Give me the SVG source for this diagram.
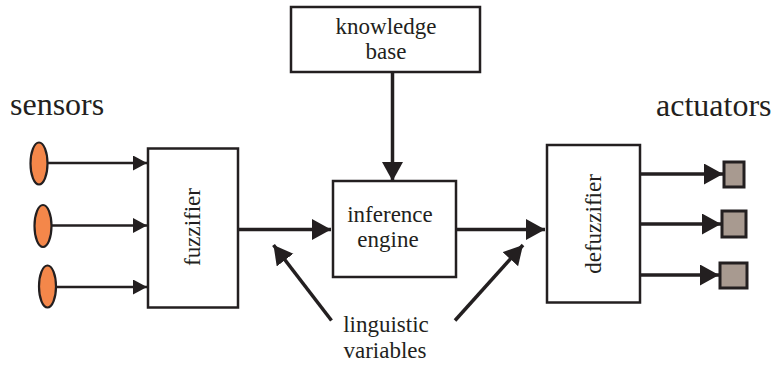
<svg xmlns="http://www.w3.org/2000/svg" width="774" height="367" viewBox="0 0 774 367">
<defs>
<style>
.box{fill:#fff;stroke:#231f20;stroke-width:2.5}
.t{font-family:"Liberation Serif","Times New Roman",serif;fill:#231f20;font-size:23px}
.big{font-size:32px}
.ln{stroke:#231f20;stroke-width:3.5;fill:none}
.lns{stroke:#231f20;stroke-width:2.5;fill:none}
.sensor{fill:#f4874a;stroke:#231f20;stroke-width:2.2}
.act{fill:#a89a90;stroke:#231f20;stroke-width:3}
</style>
<marker id="ah" markerUnits="userSpaceOnUse" markerWidth="20" markerHeight="22" refX="19" refY="10.5" orient="auto" viewBox="0 0 20 22">
<path d="M0,0 L19,10.5 L0,21 Z" fill="#231f20"/>
</marker>
<marker id="ahs" markerUnits="userSpaceOnUse" markerWidth="14" markerHeight="16" refX="14" refY="7.5" orient="auto" viewBox="0 0 14 16">
<path d="M0,0 L14,7.5 L0,15 Z" fill="#231f20"/>
</marker>
</defs>
<rect width="774" height="367" fill="#fff"/>

<text class="t big" x="10" y="115">sensors</text>
<text class="t big" x="656" y="116">actuators</text>

<g id="sensor1"><ellipse class="sensor" cx="39" cy="163.5" rx="8.5" ry="21"/></g>
<g id="sensor2"><ellipse class="sensor" cx="43" cy="226" rx="8.5" ry="21"/></g>
<g id="sensor3"><ellipse class="sensor" cx="47.5" cy="286.5" rx="8.5" ry="21"/></g>

<g id="fuzzifier">
<rect class="box" x="148" y="148.5" width="90" height="159"/>
<text class="t" transform="translate(200,227) rotate(-90)" text-anchor="middle">fuzzifier</text>
</g>

<g id="knowledge-base">
<rect class="box" x="291" y="7" width="189" height="65"/>
<text class="t" x="386" y="34" text-anchor="middle">knowledge</text>
<text class="t" x="386" y="59" text-anchor="middle">base</text>
</g>

<g id="inference-engine">
<rect class="box" x="333" y="181" width="123" height="96"/>
<text class="t" x="390" y="221.5" text-anchor="middle">inference</text>
<text class="t" x="388" y="246.5" text-anchor="middle">engine</text>
</g>

<g id="defuzzifier">
<rect class="box" x="547" y="145" width="93" height="157.5"/>
<text class="t" transform="translate(601,224) rotate(-90)" text-anchor="middle">defuzzifier</text>
</g>

<g id="actuator1"><rect class="act" x="724" y="162" width="20" height="25"/></g>
<g id="actuator2"><rect class="act" x="722" y="211" width="24" height="26"/></g>
<g id="actuator3"><rect class="act" x="720" y="263" width="27" height="25"/></g>

<g id="linguistic-variables">
<text class="t" x="386" y="331.5" text-anchor="middle">linguistic</text>
<text class="t" x="385" y="358" text-anchor="middle">variables</text>
</g>

<g id="connectors">
<line class="lns" x1="47.5" y1="163" x2="147" y2="163" marker-end="url(#ahs)"/>
<line class="lns" x1="51.5" y1="225.5" x2="147" y2="225.5" marker-end="url(#ahs)"/>
<line class="lns" x1="56" y1="287" x2="147" y2="287" marker-end="url(#ahs)"/>
<line class="ln" x1="239" y1="229.5" x2="331" y2="229.5" marker-end="url(#ah)"/>
<line class="ln" x1="457" y1="229.5" x2="545" y2="229.5" marker-end="url(#ah)"/>
<line class="ln" x1="392.5" y1="73" x2="392.5" y2="181" marker-end="url(#ah)"/>
<line class="ln" x1="641" y1="174" x2="723" y2="174" marker-end="url(#ah)"/>
<line class="ln" x1="641" y1="224" x2="721" y2="224" marker-end="url(#ah)"/>
<line class="ln" x1="641" y1="275" x2="719" y2="275" marker-end="url(#ah)"/>
<line class="ln" x1="331.5" y1="320.5" x2="273.5" y2="245" marker-end="url(#ah)"/>
<line class="ln" x1="455" y1="320.5" x2="523" y2="245" marker-end="url(#ah)"/>
</g>
</svg>
